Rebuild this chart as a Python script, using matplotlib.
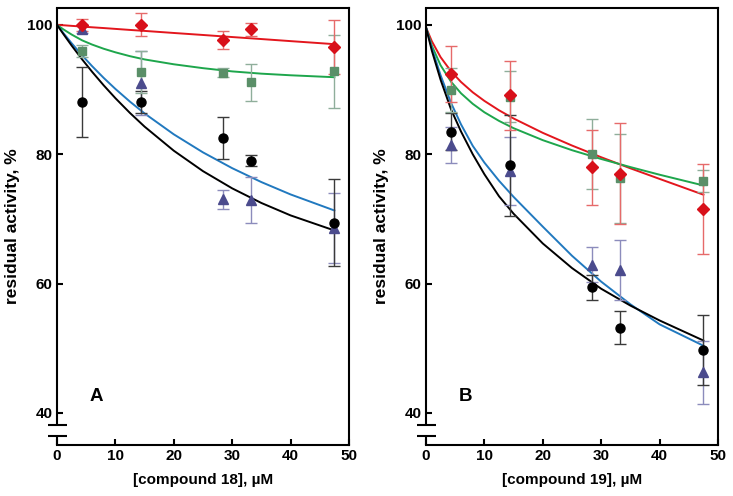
import matplotlib
matplotlib.use("Agg")
import matplotlib.pyplot as plt

plt.rcParams['font.family'] = ['Liberation Sans', 'DejaVu Sans']
plt.rcParams['font.weight'] = 'bold'

# measured concentrations, uM
conc = [4.3, 14.3, 28.5, 33.3, 47.5]

# panel A (compound 18)
a_red = [100.0, 100.0, 97.6, 99.3, 96.6]
a_red_err = [0.9, 1.8, 1.4, 1.0, 4.2]
a_green = [96.0, 92.7, 92.6, 91.1, 92.8]
a_green_err = [0.9, 3.3, 0.7, 2.8, 5.7]
a_tri = [99.4, 91.0, 73.0, 72.9, 68.6]
a_tri_err = [0.6, 5.0, 1.4, 3.6, 5.4]
a_circ = [88.1, 88.0, 82.5, 79.0, 69.4]
a_circ_err = [5.4, 1.7, 3.2, 0.8, 6.7]

# panel B (compound 19)
b_red = [92.4, 89.1, 78.0, 77.0, 71.5]
b_red_err = [4.4, 5.3, 5.8, 7.8, 7.0]
b_green = [89.9, 88.9, 80.0, 76.3, 75.9]
b_green_err = [3.4, 3.9, 5.4, 6.9, 1.7]
b_tri = [81.4, 77.4, 62.9, 62.1, 46.3]
b_tri_err = [2.8, 5.3, 2.7, 4.7, 4.9]
b_circ = [83.5, 78.3, 59.4, 53.2, 49.7]
b_circ_err = [2.9, 7.8, 1.9, 2.6, 5.4]

# fitted curves
fit_x = [0, 1, 2.5, 4.3, 6, 8, 10, 12.5, 15, 20, 25, 30, 35, 40, 47.5]
a_fit_red = [100, 99.94, 99.84, 99.73, 99.62, 99.50, 99.37, 99.21, 99.06,
             98.74, 98.43, 98.11, 97.80, 97.48, 97.01]
a_fit_green = [100, 99.35, 98.5, 97.6, 96.95, 96.3, 95.75, 95.15, 94.65,
               93.9, 93.3, 92.8, 92.45, 92.2, 91.9]
a_fit_blue = [100, 98.83, 97.16, 95.28, 93.62, 91.79, 90.09, 88.12, 86.30,
              83.07, 80.28, 77.84, 75.69, 73.78, 71.30]
a_fit_black = [100, 98.69, 96.80, 94.66, 92.75, 90.64, 88.66, 86.37, 84.26,
               80.54, 77.38, 74.72, 72.46, 70.54, 68.21]
b_fit_red = [99.6, 97.46, 95.0, 92.80, 91.16, 89.57, 88.24, 86.79, 85.52,
             83.30, 81.34, 79.53, 77.82, 76.18, 73.74]
b_fit_green = [99.6, 96.77, 93.74, 91.19, 89.41, 87.79, 86.48, 85.15, 84.02,
               82.17, 80.62, 79.26, 78.01, 76.83, 75.17]
b_fit_blue = [99.6, 96.4, 92.2, 87.9, 84.6, 81.3, 78.7, 75.9, 73.4,
              68.8, 64.3, 60.3, 56.8, 53.7, 50.4]
b_fit_black = [99.6, 96.0, 91.5, 86.9, 83.5, 80.0, 76.9, 73.5, 70.8,
               66.2, 62.4, 59.2, 56.6, 54.3, 51.2]

x_ticks = [0, 10, 20, 30, 40, 50]
y_ticks = [40, 60, 80, 100]
YMIN, YMAX = 35.05, 102.6
BREAK_LO, BREAK_HI = 36.4, 38.1


def draw_panel(ax, fits, series, xlabel, letter):
    """
    Draws one panel: fitted curves, points with error bars, broken y axis.
    """
    curve_colors = ['#e3161d', '#1ea64c', '#2179bf', '#000000']
    for yv, c in zip(fits, curve_colors):
        ax.plot(fit_x, yv, color=c, lw=1.4, zorder=2)

    styles = [
        ('^', '#4b4b8d', '#8c8cbc', 6.5),
        ('o', '#000000', '#3a3a3a', 6.5),
        ('s', '#5a8f68', '#8fae9b', 6.2),
        ('D', '#d8101a', '#e66a6a', 6.0),
    ]
    for (yv, err), (m, mc, ec, ms) in zip(series, styles):
        ax.errorbar(conc, yv, yerr=err, fmt=m, color=mc, ms=ms,
                    ecolor=ec, elinewidth=1.0, capsize=4.5, capthick=1.0,
                    zorder=3)

    ax.set_xlim(0, 50)
    ax.set_ylim(YMIN, YMAX)
    ax.set_xticks(x_ticks)
    ax.set_yticks(y_ticks)
    ax.tick_params(direction='in', length=4.5, width=1.5, labelsize=11,
                   pad=3)
    for s in ['top', 'right', 'bottom']:
        ax.spines[s].set_linewidth(1.5)
    ax.spines['left'].set_visible(False)

    # left spine with a break
    kw = dict(color='black', lw=1.5, clip_on=False, zorder=5,
              solid_capstyle='butt')
    ax.plot([0, 0], [BREAK_HI, YMAX], **kw)
    ax.plot([0, 0], [YMIN, BREAK_LO], **kw)
    ax.plot([-1.55, 1.7], [BREAK_HI, BREAK_HI], **kw)
    ax.plot([-1.55, 1.7], [BREAK_LO, BREAK_LO], **kw)

    ax.set_xlabel(xlabel, fontsize=11, fontweight='bold', labelpad=7)
    ax.set_ylabel('residual activity, %', fontsize=12.5,
                  fontweight='bold', labelpad=5)
    ax.text(6.8, 42.6, letter, fontsize=13.5, fontweight='bold',
            ha='center', va='center')


fig = plt.figure(figsize=(7.33, 4.96), dpi=100)
ax_a = fig.add_axes([57 / 733, 51 / 496, 292 / 733, 437 / 496])
ax_b = fig.add_axes([426 / 733, 51 / 496, 292 / 733, 437 / 496])

draw_panel(ax_a,
           [a_fit_red, a_fit_green, a_fit_blue, a_fit_black],
           [(a_tri, a_tri_err), (a_circ, a_circ_err),
            (a_green, a_green_err), (a_red, a_red_err)],
           '[compound 18], µM', 'A')
draw_panel(ax_b,
           [b_fit_red, b_fit_green, b_fit_blue, b_fit_black],
           [(b_tri, b_tri_err), (b_circ, b_circ_err),
            (b_green, b_green_err), (b_red, b_red_err)],
           '[compound 19], µM', 'B')

fig.savefig('out.png', dpi=100)
